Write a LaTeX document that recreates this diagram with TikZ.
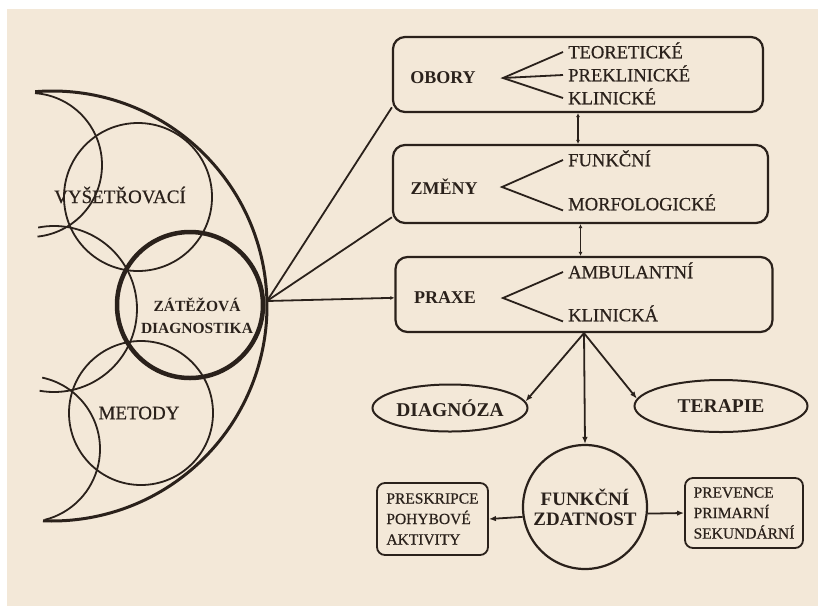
\documentclass[tikz,border=0pt]{standalone}
\usepackage{fontspec}
\setmainfont{Liberation Serif}
\newfontfamily\inkfont{Liberation Serif}[FakeBold=0.5]
\usetikzlibrary{arrows.meta,shapes.geometric}
\definecolor{paper}{HTML}{F3E8D8}
\definecolor{ink}{HTML}{2A211B}
\begin{document}
\begin{tikzpicture}[x=1pt,y=-1pt,
  every node/.style={text=ink},
  thinline/.style={draw=ink, line width=1.8pt},
  ln/.style={draw=ink, line width=1.8pt},
  roundbox/.style={draw=ink, line width=2.2pt, rounded corners=12pt, inner sep=0pt},
  smallbox/.style={draw=ink, line width=1.8pt, rounded corners=8pt, align=left, inner sep=0pt,
    font=\inkfont\fontsize{15.5}{20.5}\selectfont},
  oval/.style={ellipse, draw=ink, line width=2pt, inner sep=0pt},
  title/.style={font=\fontsize{18}{20}\selectfont\bfseries, inner sep=0pt},
  bigtitle/.style={font=\fontsize{19.5}{20}\selectfont\bfseries, inner sep=0pt},
  branch/.style={font=\inkfont\fontsize{18.6}{20}\selectfont, inner xsep=5pt, inner ysep=0pt,
    text height=12.5pt, text depth=0pt, anchor=west},
  lefttext/.style={font=\inkfont\fontsize{19}{21}\selectfont, inner sep=0pt},
  tip/.style={-{Latex[length=7pt,width=5.5pt]}},
  dot/.style={-{Latex[length=4pt,width=4pt]}},
  duo/.style={{Latex[length=4pt,width=4pt]}-{Latex[length=4pt,width=4pt]}}
]
% paper
\fill[white] (0,0) rectangle (818,606);
\fill[paper] (7,9) rectangle (818,606);
\useasboundingbox (0,0) rectangle (818,606);

% crescent and overlapping circles
\draw[ink, line width=3pt] (52,306) ++(-94.5:215) arc[start angle=-94.5, end angle=92.4, radius=215];
\draw[thinline] (30,165) ++(-86:72) arc[start angle=-86, end angle=84, radius=72];
\draw[thinline] (54,309) ++(-101:83) arc[start angle=-101, end angle=100, radius=83];
\draw[thinline] (27,449) ++(-78:73) arc[start angle=-78, end angle=76, radius=73];
\draw[thinline] (138,197) circle[radius=74];
\draw[thinline] (141,413) circle[radius=72];
\node[circle, draw=ink, line width=4.5pt, minimum size=146pt, inner sep=0pt] (zat) at (190,305) {};

\node[lefttext] (vys) at (120,195) {VYŠETŘOVACÍ};
\node[lefttext] (met) at (139,413) {METODY};
\node[font=\fontsize{15.5}{22}\selectfont\bfseries, align=center, inner sep=0pt] (zatT) at (197,316) {ZÁTĚŽOVÁ\\DIAGNOSTIKA};
\coordinate (hub) at (267,301);

% three rounded boxes
\node[roundbox, minimum width=370pt, minimum height=75pt] (obory) at (578,74.5) {};
\node[title] (oboryT) at (443,78) {OBORY};
\coordinate (oboryFork) at (503,78);
\node[branch] (teor) at (563,52) {TEORETICKÉ};
\node[branch] (prekl) at (563,75) {PREKLINICKÉ};
\node[branch] (klin) at (563,98) {KLINICKÉ};
\draw[ln] (teor.west) -- (oboryFork) -- (klin.west);
\draw[ln] (oboryFork) -- (prekl.west);

\node[roundbox, minimum width=375pt, minimum height=78pt] (zmeny) at (580.5,184) {};
\node[title] (zmenyT) at (444,187) {ZMĚNY};
\coordinate (zmenyFork) at (502,187);
\node[branch] (funk) at (563,160) {FUNKČNÍ};
\node[branch] (morf) at (563,204) {MORFOLOGICKÉ};
\draw[ln] (funk.west) -- (zmenyFork) -- (morf.south west);

\node[roundbox, minimum width=377pt, minimum height=75pt] (praxe) at (584,294.5) {};
\node[title] (praxeT) at (445,298) {PRAXE};
\coordinate (praxeFork) at (503,298);
\node[branch] (amb) at (563,272) {AMBULANTNÍ};
\node[branch] (klinA) at (563,315) {KLINICKÁ};
\draw[ln] (amb.west) -- (praxeFork) -- (klinA.south west);

% links between boxes and from the hub
\draw[ln, duo] (obory.south) -- (obory.south |- zmeny.north);
\draw[ln, duo] (zmeny.south) -- (zmeny.south |- praxe.north);
\draw[ln] (hub) -- (obory.190.9);
\draw[ln] (hub) -- (zmeny.190.5);
\draw[ln, dot] (hub) -- (praxe.181.8);

% outcomes
\node[oval, bigtitle, minimum width=155pt, minimum height=47pt] (diag) at (450,408) {DIAGNÓZA};
\node[oval, bigtitle, minimum width=173pt, minimum height=52pt] (terap) at (721,406) {TERAPIE};
\node[circle, draw=ink, line width=2.2pt, minimum size=124pt, inner sep=0pt, align=center,
  font=\fontsize{19}{20}\selectfont\bfseries] (fz) at (585,507) {FUNKČNÍ\\ZDATNOST};
\node[smallbox, minimum width=111pt, minimum height=72pt] (presk) at (432.5,519) {PRESKRIPCE\\POHYBOVÉ\\AKTIVITY};
\node[smallbox, minimum width=118pt, minimum height=70pt] (prev) at (744,513) {PREVENCE\\PRIMARNÍ\\SEKUNDÁRNÍ};

\draw[ln, tip] (praxe.south) -- (diag.5);
\draw[ln, tip] (praxe.south) -- (terap.175);
\draw[ln, tip] (praxe.south) -- (fz.north);
\draw[ln, tip] (fz.189) -- (presk.east);
\draw[ln, tip] (fz.-6) -- (prev.west);
\end{tikzpicture}
\end{document}
